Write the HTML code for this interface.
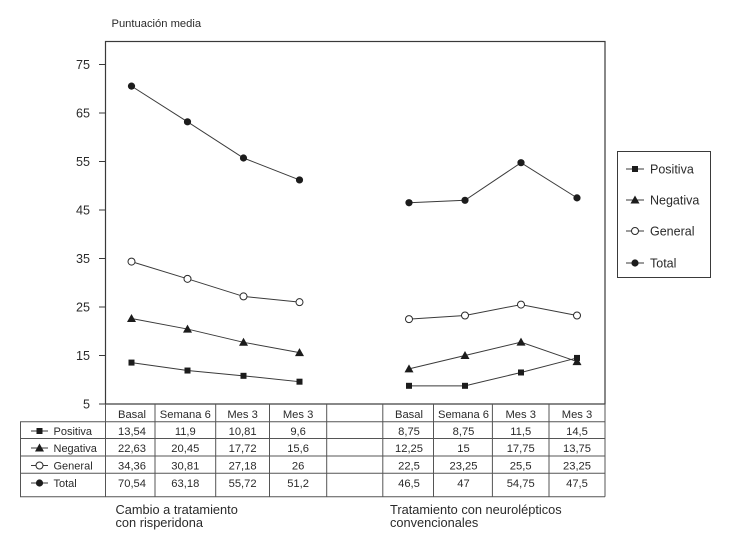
<!DOCTYPE html>
<html lang="es">
<head>
<meta charset="utf-8">
<title>Puntuación media</title>
<style>
html,body{margin:0;padding:0;background:#fff}
svg{display:block}
text{font-family:"Liberation Sans",sans-serif;fill:#2a2a2a}
</style>
</head>
<body>
<svg id="chart" xmlns="http://www.w3.org/2000/svg" width="729" height="547" viewBox="0 0 729 547"></svg>
<script>
const tickLabels = [5, 15, 25, 35, 45, 55, 65, 75];
const timepoints = ["Basal", "Semana 6", "Mes 3", "Mes 3"];
const seriesNames = ["Positiva", "Negativa", "General", "Total"];
const risperidonaPositiva = [13.54, 11.9, 10.81, 9.6];
const risperidonaNegativa = [22.63, 20.45, 17.72, 15.6];
const risperidonaGeneral = [34.36, 30.81, 27.18, 26];
const risperidonaTotal = [70.54, 63.18, 55.72, 51.2];
const convencionalPositiva = [8.75, 8.75, 11.5, 14.5];
const convencionalNegativa = [12.25, 15, 17.75, 13.75];
const convencionalGeneral = [22.5, 23.25, 25.5, 23.25];
const convencionalTotal = [46.5, 47, 54.75, 47.5];

const svg = document.getElementById('chart');
const NS = 'http://www.w3.org/2000/svg';
const INK = '#3a3a3a';

function make(tag, attrs, parent) {
  const el = document.createElementNS(NS, tag);
  for (const k in attrs) el.setAttribute(k, attrs[k]);
  (parent || svg).appendChild(el);
  return el;
}
function yScale(v) { return 404 - (v - 5) * 4.85; }
function xLeft(i) { return 131.5 + i * 56; }
function xRight(i) { return 409 + i * 56; }
function fmt(v) { return String(v).replace('.', ','); }
function label(txt, x, y, size, anchor, parent) {
  const t = make('text', { x: x, y: y, 'font-size': size, 'text-anchor': anchor || 'start' }, parent);
  t.textContent = txt;
  return t;
}
function marker(kind, x, y, parent) {
  if (kind === 0) return make('rect', { x: x - 3, y: y - 3, width: 6, height: 6, fill: '#1c1c1c' }, parent);
  if (kind === 1) return make('polygon', { points: (x) + ',' + (y - 4.5) + ' ' + (x + 4.5) + ',' + (y + 3.5) + ' ' + (x - 4.5) + ',' + (y + 3.5), fill: '#1c1c1c' }, parent);
  if (kind === 2) return make('circle', { cx: x, cy: y, r: 3.5, fill: '#fff', stroke: '#2a2a2a', 'stroke-width': 1 }, parent);
  return make('circle', { cx: x, cy: y, r: 3.6, fill: '#1c1c1c' }, parent);
}

/* axis title */
const axisTitle = label('Puntuación media', 111.5, 27, 11.2);



/* plot frame */
const frame = make('rect', { x: 105.5, y: 41.5, width: 499.5, height: 362.5, fill: 'none', stroke: INK, 'stroke-width': 1.2 });



/* ticks */
tickLabels.forEach(function (v) {
  const y = yScale(v);
  const tick = make('line', { x1: 99, x2: 105, y1: y, y2: y, stroke: INK, 'stroke-width': 1 });
  
  
  const t = label(String(v), 90, y + 4.5, 12.6, 'end');
  
  
});

/* series */
const leftSeries = [risperidonaPositiva, risperidonaNegativa, risperidonaGeneral, risperidonaTotal];
const rightSeries = [convencionalPositiva, convencionalNegativa, convencionalGeneral, convencionalTotal];
function drawSeries(values, kind, xFn, name) {
  const g = make('g', {});
  
  
  make('polyline', {
    points: values.map(function (v, i) { return xFn(i) + ',' + yScale(v); }).join(' '),
    fill: 'none', stroke: '#3a3a3a', 'stroke-width': 1
  }, g);
  values.forEach(function (v, i) { marker(kind, xFn(i), yScale(v), g); });
}
seriesNames.forEach(function (n, k) {
  drawSeries(leftSeries[k], k, xLeft, 'series-risperidona-' + n.toLowerCase());
  drawSeries(rightSeries[k], k, xRight, 'series-convencional-' + n.toLowerCase());
});

/* table */
const tableG = make('g', {});


const rowLines = [421.7, 438.5, 456, 473.3, 496.7];
const colLines = [105.5, 155, 215.7, 269.5, 326.7, 382.8, 433.5, 492.4, 549, 605];
rowLines.forEach(function (y) {
  make('line', { x1: 20, x2: 605, y1: y, y2: y, stroke: '#555', 'stroke-width': 1 }, tableG);
});
colLines.forEach(function (x) {
  make('line', { x1: x, x2: x, y1: 404, y2: 496.7, stroke: '#555', 'stroke-width': 1 }, tableG);
});
make('line', { x1: 20.5, x2: 20.5, y1: 421.7, y2: 496.7, stroke: '#555', 'stroke-width': 1 }, tableG);

const leftCols = [132, 185.3, 242.6, 298.1];
const rightCols = [409, 463.5, 520.7, 577];
timepoints.forEach(function (t, i) {
  label(t, leftCols[i], 418, 11.2, 'middle', tableG);
  label(t, rightCols[i], 418, 11.2, 'middle', tableG);
});
const rowText = [435, 452, 469.5, 487];
seriesNames.forEach(function (n, k) {
  const my = rowText[k] - 4;
  make('line', { x1: 31, x2: 48, y1: my, y2: my, stroke: '#3a3a3a', 'stroke-width': 1 }, tableG);
  marker(k, 39.5, my, tableG);
  label(n, 53.5, rowText[k], 11, 'start', tableG);
  leftSeries[k].forEach(function (v, i) { label(fmt(v), leftCols[i], rowText[k], 11.2, 'middle', tableG); });
  rightSeries[k].forEach(function (v, i) { label(fmt(v), rightCols[i], rowText[k], 11.2, 'middle', tableG); });
});

/* group captions */
const capA = make('g', {});


label('Cambio a tratamiento', 115.5, 514, 12.8, 'start', capA);
label('con risperidona', 115.5, 527, 12.8, 'start', capA);
const capB = make('g', {});


label('Tratamiento con neurolépticos', 390, 514, 12.8, 'start', capB);
label('convencionales', 390, 527, 12.8, 'start', capB);

/* legend */
const legend = make('g', {});


make('rect', { x: 617.5, y: 151.5, width: 93, height: 126, fill: '#fff', stroke: INK, 'stroke-width': 1 }, legend);
const legendRows = [169, 200, 231, 263];
seriesNames.forEach(function (n, k) {
  const entry = make('g', {}, legend);
  
  
  make('line', { x1: 626, x2: 644, y1: legendRows[k], y2: legendRows[k], stroke: '#3a3a3a', 'stroke-width': 1 }, entry);
  marker(k, 635, legendRows[k], entry);
  label(n, 650, legendRows[k] + 4.5, 12.5, 'start', entry);
});
</script>
</body>
</html>
